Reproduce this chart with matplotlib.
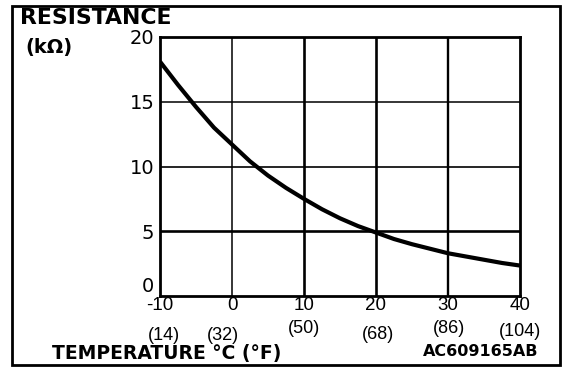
import matplotlib.pyplot as plt
from matplotlib.patches import Rectangle
import matplotlib.transforms as mtransforms

# resistance curve
temp_c = [-10, -7.5, -5, -2.5, 0, 2.5, 5, 7.5, 10, 12.5, 15, 17.5, 20,
          22.5, 25, 27.5, 30, 32.5, 35, 37.5, 40]
resistance = [18.1, 16.3, 14.6, 13.0, 11.7, 10.4, 9.3, 8.35, 7.5, 6.7, 6.0,
              5.4, 4.9, 4.4, 4.0, 3.65, 3.3, 3.05, 2.8, 2.55, 2.35]

x_ticks = [-10, 0, 10, 20, 30, 40]
y_ticks = [0, 5, 10, 15, 20]
f_labels = ['(14)', '(32)', '(50)', '(68)', '(86)', '(104)']

fig = plt.figure(figsize=(5.76, 3.76), dpi=100)
ax = fig.add_axes([160 / 576, 1 - 296 / 376, 360 / 576, 259 / 376])

# grid lines (some heavier, as in the original print)
for xv, lw in zip([0, 10, 20, 30], [1.1, 1.9, 1.9, 1.7]):
    ax.axvline(xv, color='black', lw=lw, zorder=1)
for yv, lw in zip([5, 10, 15], [1.9, 1.2, 1.1]):
    ax.axhline(yv, color='black', lw=lw, zorder=1)

ax.plot(temp_c, resistance, color='black', lw=3.0, solid_capstyle='butt', zorder=3)

ax.set_xlim(-10, 40)
ax.set_ylim(0, 20)
for s in ax.spines.values():
    s.set_linewidth(2.0)

ax.set_xticks(x_ticks)
ax.set_xticklabels([str(t) for t in x_ticks], fontfamily='Liberation Sans', fontsize=13.5)
ax.set_yticks(y_ticks)
ax.set_yticklabels([str(t) for t in y_ticks], fontfamily='DejaVu Sans', fontsize=14)
ax.tick_params(axis='x', length=0, pad=1)
ax.tick_params(axis='y', length=0, pad=4)
ax.get_yticklabels()[0].set_va('bottom')

# Fahrenheit labels under the Celsius ones
trans = mtransforms.blended_transform_factory(ax.transData, ax.transAxes)
f_dx = [4, -9, 0, 2, 1, 0]
f_dy = [-0.151, -0.151, -0.124, -0.149, -0.126, -0.137]
for t, lab, dx, dy in zip(x_ticks, f_labels, f_dx, f_dy):
    ax.text(t + dx * 50 / 360, dy, lab, transform=trans, ha='center', va='center',
            fontfamily='Liberation Sans', fontsize=13)

fig.text(20 / 576, 1 - 18 / 376, 'RESISTANCE', fontfamily='DejaVu Sans',
         fontweight='bold', fontsize=15.8, va='center', ha='left')
fig.text(25 / 576, 1 - 48 / 376, '(k\u03a9)', fontfamily='DejaVu Sans',
         fontweight='bold', fontsize=14, va='center', ha='left')
fig.text(52 / 576, 1 - 354 / 376, 'TEMPERATURE \u00b0C (\u00b0F)', fontfamily='DejaVu Sans',
         fontweight='bold', fontsize=13.5, va='center', ha='left')
fig.text(538 / 576, 1 - 352 / 376, 'AC609165AB', fontfamily='DejaVu Sans',
         fontweight='bold', fontsize=11.5, va='center', ha='right')

# outer frame around the whole figure
fig.patches.append(Rectangle((12 / 576, 1 - 365 / 376), 548 / 576, 359 / 376,
                             transform=fig.transFigure, fill=False,
                             edgecolor='black', lw=2.0))

fig.savefig('out.png', dpi=100)
